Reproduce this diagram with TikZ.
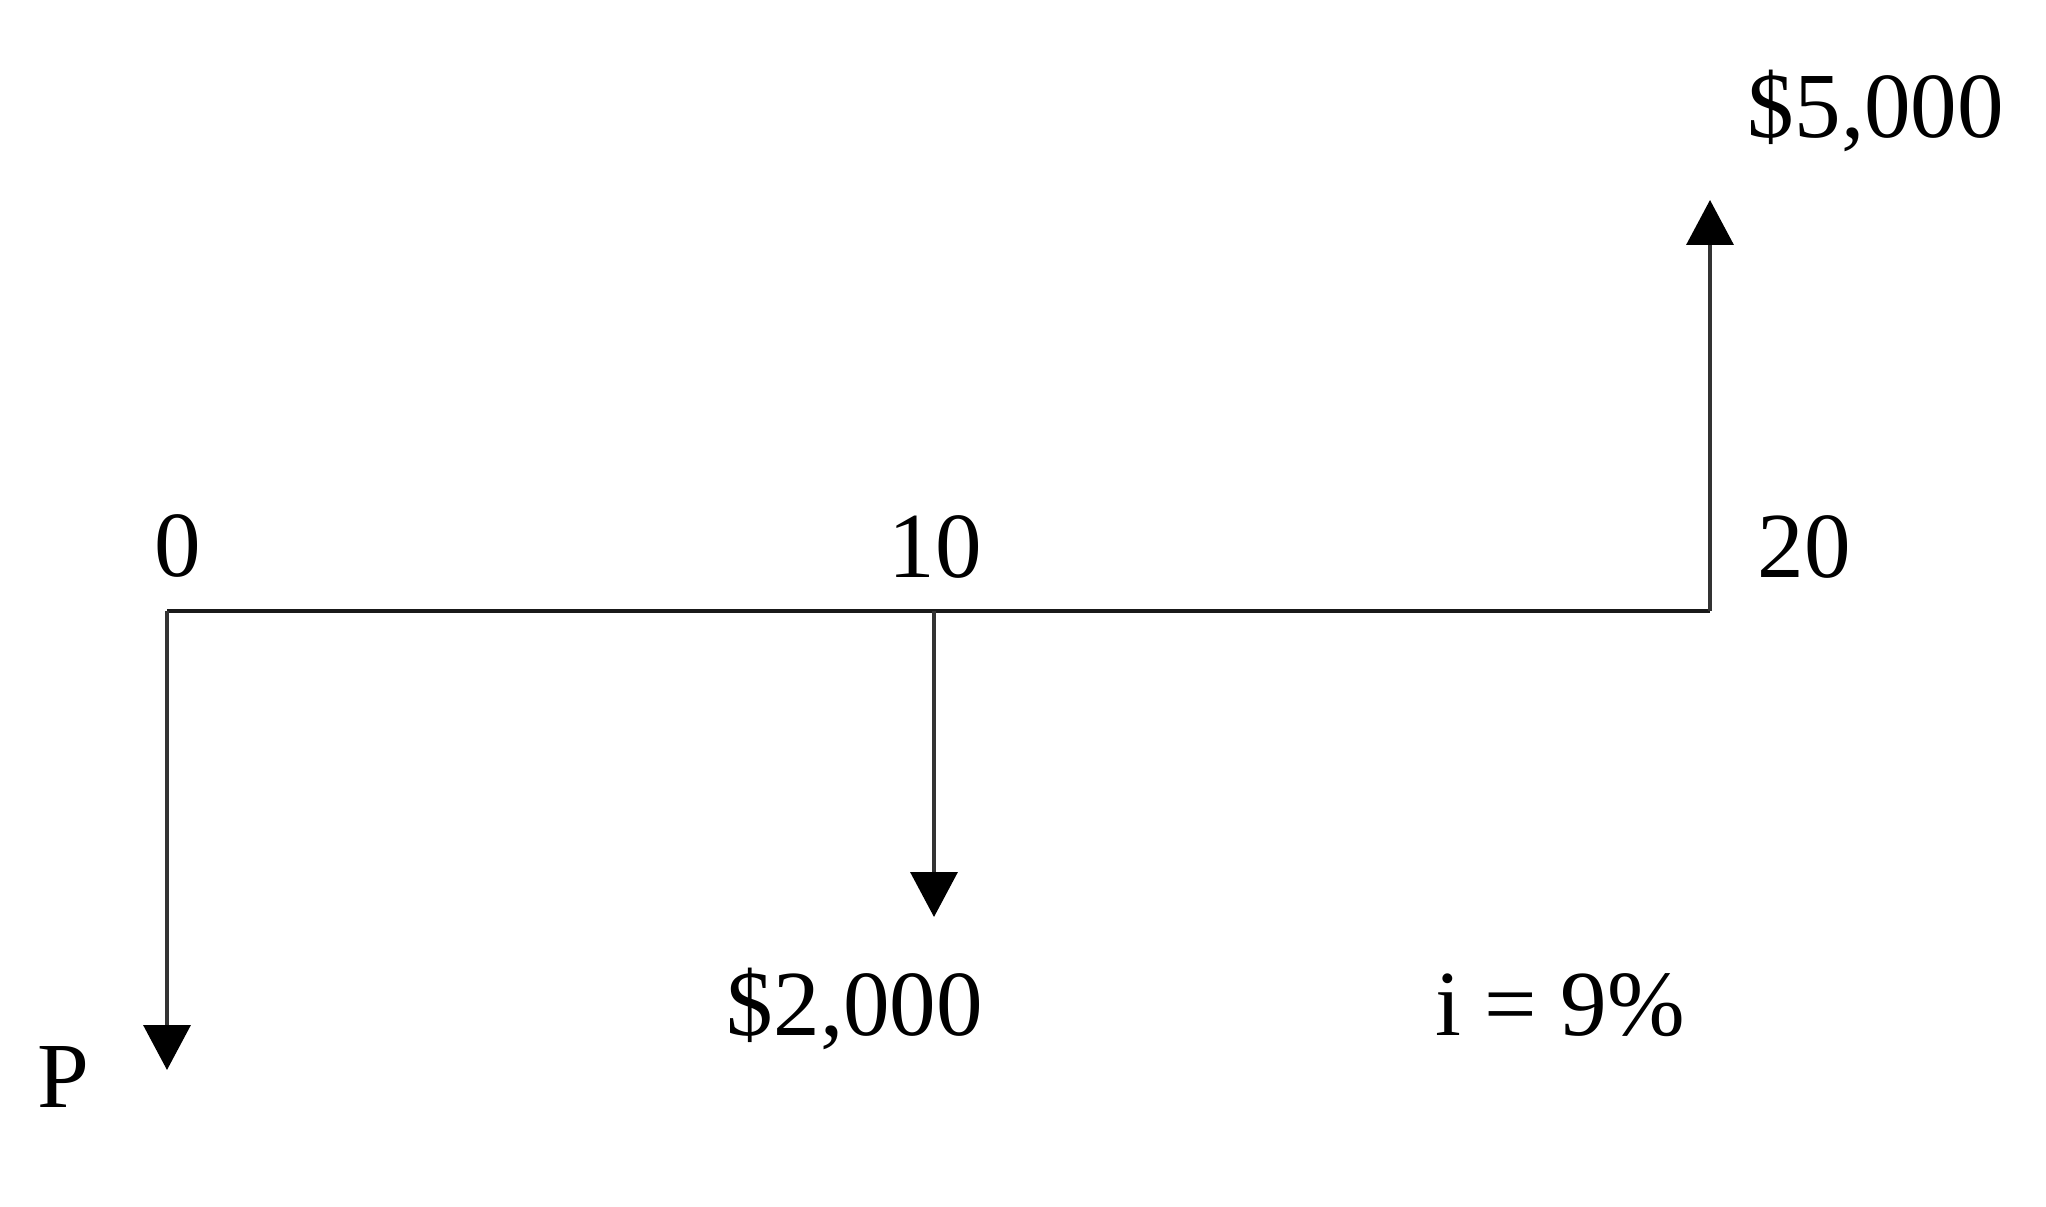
\documentclass[tikz,border=0pt]{standalone}
\usepackage{fontspec}
\setmainfont{Liberation Serif}
\usetikzlibrary{arrows.meta}
\begin{document}
\begin{tikzpicture}[
  axisline/.style={line width=1.1pt, black!90},
  flowarrow/.style={line width=1pt, black!80, -{Triangle[width=0.47cm,length=0.45cm,color=black]}},
  lbl/.style={inner sep=0pt, anchor=base, font=\fontsize{26.5pt}{30pt}\selectfont}
]
\useasboundingbox (0,0) rectangle (20.46,12.06);
% time points on the axis
\coordinate (t0) at (1.67,5.95);
\coordinate (t10) at (9.34,5.95);
\coordinate (t20) at (17.10,5.95);
% arrow ends
\coordinate (pend) at (1.67,1.36);
\coordinate (e2000) at (9.34,2.89);
\coordinate (e5000) at (17.10,10.06);
% axis
\draw[axisline] (t0) -- (t20);
% cash flows
\draw[flowarrow] (t0) -- (pend);
\draw[flowarrow] (t10) -- (e2000);
\draw[flowarrow] (t20) -- (e5000);
% labels
\node[lbl] (l0) at (1.78,6.29) {0};
\node[lbl] (l10) at (9.35,6.28) {10};
\node[lbl] (l20) at (18.04,6.28) {20};
\node[lbl] (l5000) at (18.76,10.68) {\$5,000};
\node[lbl] (l2000) at (8.55,1.71) {\$2,000};
\node[lbl] (li) at (15.60,1.71) {i = 9\%};
\node[lbl] (lp) at (0.63,0.99) {P};
\end{tikzpicture}
\end{document}
